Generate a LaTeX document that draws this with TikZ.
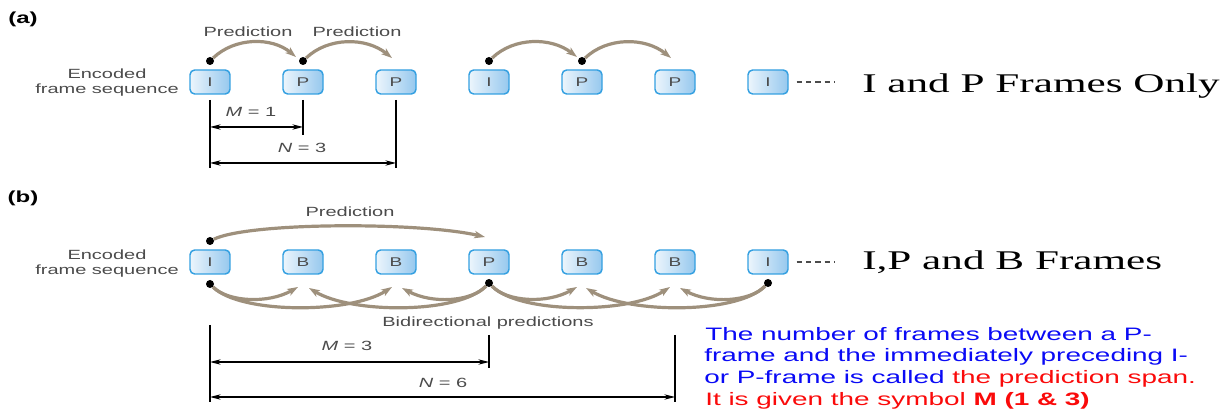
\documentclass[tikz,border=0pt]{standalone}
\usepackage{fontspec}
\usetikzlibrary{arrows.meta}
\newfontfamily\figfont[FakeStretch=1.5]{Liberation Sans}
\newfontfamily\titlefont[FakeStretch=1.6]{Liberation Serif}
\newfontfamily\notefont[FakeStretch=1.55]{Liberation Sans}
\definecolor{arccol}{RGB}{158,144,124}
\definecolor{boxline}{RGB}{52,160,225}
\definecolor{boxL}{RGB}{236,245,252}
\definecolor{boxR}{RGB}{150,200,238}
\definecolor{lbl}{RGB}{75,75,75}
\definecolor{noteblue}{RGB}{10,10,245}
\definecolor{notered}{RGB}{250,10,10}
\begin{document}
\begin{tikzpicture}[x=0.75pt,y=-0.75pt,
  frame/.style={draw=boxline, line width=1.1pt, rounded corners=3.5pt,
    left color=boxL, right color=boxR, minimum width=30pt, minimum height=18pt,
    inner sep=0pt, font=\figfont\fontsize{9.5pt}{11pt}\selectfont, text=lbl},
  pred/.style={draw=arccol, line width=2.4pt,
    -{Stealth[length=8pt,width=5.5pt,inset=2pt]}},
  dotnode/.style={circle, fill=black, inner sep=0pt, minimum size=6pt},
  dim/.style={line width=0.9pt,
    {Stealth[length=8pt,width=4pt]}-{Stealth[length=8pt,width=4pt]}},
  tick/.style={line width=1.1pt},
  lab/.style={font=\figfont\fontsize{10pt}{11.25pt}\selectfont, text=lbl, inner sep=0pt},
  panel/.style={font=\figfont\bfseries\fontsize{12pt}{14pt}\selectfont, inner sep=0pt},
  ttl/.style={font=\titlefont\fontsize{20.25pt}{24pt}\selectfont, inner sep=0pt, anchor=base west},
  note/.style={font=\notefont\fontsize{13.5pt}{16pt}\selectfont, inner sep=0pt, anchor=base west, text=noteblue},
  dashline/.style={draw=lbl, line width=0.8pt, dash pattern=on 4pt off 3pt}
]
\useasboundingbox (0,0) rectangle (1227,409);

% ---------------- (a) ----------------
\node[panel] (pa) at (23,19) {(a)};
\node[lab, align=center] (enca) at (107,83) {Encoded\\frame sequence};
\foreach \n/\x/\t in {1/210/I,2/303/P,3/396/P,4/489/I,5/582/P,6/675/P,7/768/I}
  \node[frame] (a\n) at (\x,82) {\t};
\coordinate (dsa) at (835,82);
\draw[dashline] ([xshift=6pt]a7.east) -- (dsa);
\node[ttl] (ta) at (862,93) {I and P Frames Only};

\node[dotnode] (da1) at (210,61) {};
\node[dotnode] (da2) at (303,61) {};
\node[dotnode] (da4) at (489,61) {};
\node[dotnode] (da5) at (582,61) {};
\coordinate (ea2) at (296,57);
\coordinate (ea3) at (392,58);
\coordinate (ea5) at (577,57);
\coordinate (ea6) at (671,58);
\draw[pred] (da1) .. controls (235,37) and (272,37) .. (ea2);
\draw[pred] (da2) .. controls (328,37) and (366,37) .. (ea3);
\draw[pred] (da4) .. controls (514,37) and (551,37) .. (ea5);
\draw[pred] (da5) .. controls (607,37) and (645,37) .. (ea6);
\node[lab] (pr1) at (248,32) {Prediction};
\node[lab] (pr2) at (357,32) {Prediction};

\coordinate (t1a) at (210,100); \coordinate (t1b) at (210,168);
\coordinate (t2a) at (303,100); \coordinate (t2b) at (303,135);
\coordinate (t3a) at (396,100); \coordinate (t3b) at (396,168);
\draw[tick] (t1a) -- (t1b);
\draw[tick] (t2a) -- (t2b);
\draw[tick] (t3a) -- (t3b);
\coordinate (m1l) at (210,127); \coordinate (m1r) at (303,127);
\coordinate (n1l) at (210,163); \coordinate (n1r) at (396,163);
\draw[dim] (m1l) -- (m1r);
\draw[dim] (n1l) -- (n1r);
\node[lab] (m1) at (251,112) {\textit{M} = 1};
\node[lab] (n1) at (302,148) {\textit{N} = 3};

% ---------------- (b) ----------------
\node[panel] (pb) at (23,198) {(b)};
\node[lab, align=center] (encb) at (107,264) {Encoded\\frame sequence};
\foreach \n/\x/\t in {1/210/I,2/303/B,3/396/B,4/489/P,5/582/B,6/675/B,7/768/I}
  \node[frame] (b\n) at (\x,262) {\t};
\coordinate (dsb) at (835,262);
\draw[dashline] ([xshift=6pt]b7.east) -- (dsb);
\node[ttl] (tb) at (862,270) {I,P and B Frames};

\node[dotnode] (db0) at (210,241) {};
\coordinate (eb4) at (485,237);
\draw[pred] (db0) .. controls (250,222) and (420,222) .. (eb4);
\node[lab] (pr3) at (350,212) {Prediction};

\node[dotnode] (db1) at (210,284) {};
\node[dotnode] (db4) at (489,283) {};
\node[dotnode] (db7) at (768,283) {};
\coordinate (l2) at (298,287); \coordinate (r2) at (309,288);
\coordinate (l3) at (392,287); \coordinate (r3) at (402,288);
\coordinate (l5) at (577,287); \coordinate (r5) at (586,288);
\coordinate (l6) at (670,287); \coordinate (r6) at (680,288);
\draw[pred] (db1) .. controls (228,302) and (268,304) .. (l2);
\draw[pred] (db1) .. controls (240,314) and (350,314) .. (l3);
\draw[pred] (db4) .. controls (471,302) and (432,304) .. (r3);
\draw[pred] (db4) .. controls (459,314) and (352,314) .. (r2);
\draw[pred] (db4) .. controls (507,302) and (547,304) .. (l5);
\draw[pred] (db4) .. controls (519,314) and (629,314) .. (l6);
\draw[pred] (db7) .. controls (750,302) and (710,304) .. (r6);
\draw[pred] (db7) .. controls (738,314) and (630,314) .. (r5);
\node[lab] (bid) at (488,323) {Bidirectional predictions};

\coordinate (u1a) at (210,325); \coordinate (u1b) at (210,402);
\coordinate (u2a) at (489,335); \coordinate (u2b) at (489,368);
\coordinate (u3a) at (675,335); \coordinate (u3b) at (675,402);
\draw[tick] (u1a) -- (u1b);
\draw[tick] (u2a) -- (u2b);
\draw[tick] (u3a) -- (u3b);
\coordinate (m2l) at (210,362); \coordinate (m2r) at (489,362);
\coordinate (n2l) at (210,397); \coordinate (n2r) at (675,397);
\draw[dim] (m2l) -- (m2r);
\draw[dim] (n2l) -- (n2r);
\node[lab] (m2) at (347,346) {\textit{M} = 3};
\node[lab] (n2) at (443,383) {\textit{N} = 6};

% ---------------- note ----------------
\node[note] (nt1) at (705,340) {The number of frames between a P-};
\node[note] (nt2) at (704,362) {frame and the immediately preceding I-};
\node[note] (nt3) at (704,383) {or P-frame is called \textcolor{notered}{the prediction span.}};
\node[note, text=notered] (nt4) at (705,405) {It is given the symbol \textbf{M (1 \& 3)}};
\end{tikzpicture}
\end{document}
